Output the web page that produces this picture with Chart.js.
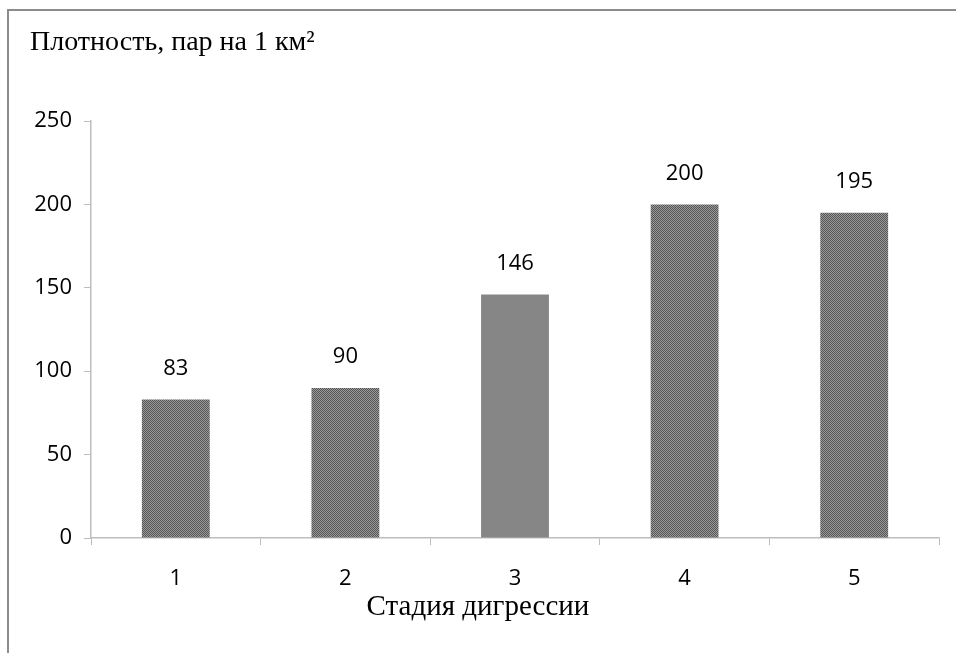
<!DOCTYPE html>
<html>
<head>
<meta charset="utf-8">
<script src="https://cdn.jsdelivr.net/npm/chart.js@4/dist/chart.umd.min.js"></script>
<style>
  html, body { margin: 0; padding: 0; background: #fff; overflow: hidden; }
  #wrap { position: relative; width: 956px; height: 653px; }
  #frame { position: absolute; left: 7px; top: 9px; width: 1000px; height: 700px;
           border-top: 2px solid #8c8c8c; border-left: 2px solid #8c8c8c; }
  canvas { position: absolute; left: 0; top: 0; }
</style>
</head>
<body>
<div id="wrap">
  <div id="frame"></div>
  <canvas id="c" width="956" height="653"></canvas>
</div>
<script>
const categories = ['1', '2', '3', '4', '5'];
const densityValues = [83, 90, 146, 200, 195];
const yTickValues = [0, 50, 100, 150, 200, 250];
const yTitle = 'Плотность, пар на 1 км²';
const xTitle = 'Стадия дигрессии';
const solidBars = [false, false, true, false, false];

function makePattern() {
  const p = document.createElement('canvas');
  p.width = 2; p.height = 2;
  const g = p.getContext('2d');
  g.fillStyle = '#9a9a9a'; g.fillRect(0, 0, 2, 2);
  g.fillStyle = '#555555'; g.fillRect(0, 0, 1, 1); g.fillRect(1, 1, 1, 1);
  return g.createPattern(p, 'repeat');
}
const ctx = document.getElementById('c').getContext('2d');
const pattern = makePattern();
const barColors = solidBars.map(s => s ? '#868686' : pattern);

const titlePlugin = {
  id: 'titles',
  afterDraw(chart) {
    const c = chart.ctx;
    c.save();
    c.fillStyle = '#000';
    c.font = '28px "Liberation Serif"';
    c.textBaseline = 'alphabetic';
    c.textAlign = 'left';
    c.fillText(yTitle, 30, 50);
    c.font = '29px "Liberation Serif"';
    c.textAlign = 'center';
    c.textBaseline = 'middle';
    c.fillText(xTitle, 478, 607);
    c.restore();
  }
};

const valueLabels = {
  id: 'valueLabels',
  afterDatasetsDraw(chart) {
    const c = chart.ctx;
    const meta = chart.getDatasetMeta(0);
    c.save();
    c.fillStyle = '#000';
    c.font = '22px "Open Sans"';
    c.textAlign = 'center';
    c.textBaseline = 'middle';
    meta.data.forEach((bar, i) => {
      c.fillText(String(densityValues[i]), bar.x, bar.y - 31);
    });
    c.restore();
  }
};

new Chart(ctx, {
  type: 'bar',
  data: {
    labels: categories,
    datasets: [{
      data: densityValues,
      backgroundColor: barColors,
      borderWidth: 0,
      categoryPercentage: 1,
      barPercentage: 0.4
    }]
  },
  options: {
    responsive: false,
    animation: false,
    devicePixelRatio: 1,
    layout: { padding: { left: 0, right: 17, top: 121, bottom: 0 } },
    plugins: { legend: { display: false }, tooltip: { enabled: false }, title: { display: false } },
    scales: {
      x: {
        offset: true,
        grid: { display: true, drawOnChartArea: false, offset: true, color: '#bdbdbd', tickLength: 7 },
        border: { color: '#bdbdbd', width: 1.5 },
        ticks: { color: '#000', font: { family: 'Open Sans', size: 22 }, padding: 21 },
        afterFit(scale) { scale.height = 115; }
      },
      y: {
        min: 0, max: 250,
        afterBuildTicks(scale) { scale.ticks = yTickValues.map(v => ({ value: v })); },
        grid: { display: true, drawOnChartArea: false, color: '#bdbdbd', tickLength: 7 },
        border: { color: '#bdbdbd', width: 1.5 },
        ticks: { color: '#000', font: { family: 'Open Sans', size: 22 }, padding: 12 },
        afterFit(scale) { scale.width = 91; }
      }
    }
  },
  plugins: [titlePlugin, valueLabels]
});
</script>
</body>
</html>
